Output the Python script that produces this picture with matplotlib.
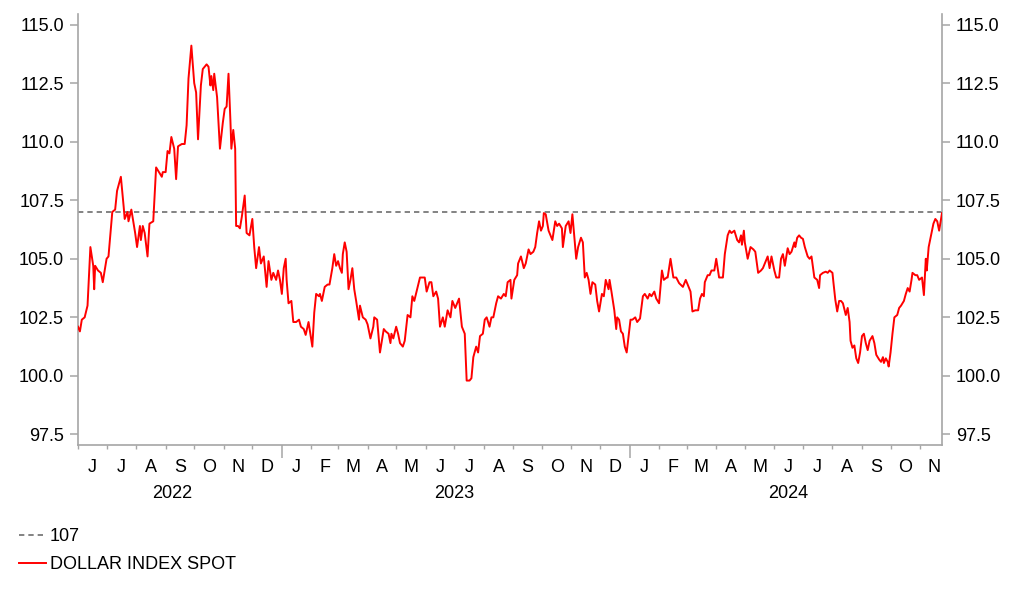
import matplotlib
matplotlib.use("Agg")
import matplotlib.pyplot as plt
import matplotlib.lines as mlines
import matplotlib.transforms as mtransforms
import pandas as pd

# ---------------- data ----------------
dates = [
    "2022-06-01", "2022-06-03", "2022-06-05", "2022-06-08", "2022-06-11", "2022-06-14", "2022-06-17", "2022-06-18",
    "2022-06-19", "2022-06-22", "2022-06-25", "2022-06-27", "2022-07-01", "2022-07-03", "2022-07-07", "2022-07-10",
    "2022-07-12", "2022-07-16", "2022-07-19", "2022-07-20", "2022-07-23", "2022-07-24", "2022-07-27", "2022-07-29",
    "2022-07-31", "2022-08-02", "2022-08-05", "2022-08-06", "2022-08-08", "2022-08-10", "2022-08-13", "2022-08-15",
    "2022-08-19", "2022-08-22", "2022-08-25", "2022-08-28", "2022-08-29", "2022-09-01", "2022-09-03", "2022-09-05",
    "2022-09-07", "2022-09-10", "2022-09-12", "2022-09-14", "2022-09-18", "2022-09-21", "2022-09-23", "2022-09-25",
    "2022-09-28", "2022-10-01", "2022-10-03", "2022-10-05", "2022-10-08", "2022-10-10", "2022-10-14", "2022-10-16",
    "2022-10-18", "2022-10-19", "2022-10-21", "2022-10-22", "2022-10-25", "2022-10-28", "2022-10-31", "2022-11-02",
    "2022-11-04", "2022-11-06", "2022-11-08", "2022-11-09", "2022-11-11", "2022-11-13", "2022-11-14", "2022-11-16",
    "2022-11-18", "2022-11-20", "2022-11-23", "2022-11-25", "2022-11-28", "2022-12-01", "2022-12-03", "2022-12-05",
    "2022-12-08", "2022-12-10", "2022-12-13", "2022-12-16", "2022-12-18", "2022-12-21", "2022-12-23", "2022-12-26",
    "2022-12-28", "2022-12-30", "2023-01-01", "2023-01-03", "2023-01-05", "2023-01-06", "2023-01-08", "2023-01-11",
    "2023-01-13", "2023-01-16", "2023-01-19", "2023-01-21", "2023-01-24", "2023-01-26", "2023-01-29", "2023-02-02",
    "2023-02-04", "2023-02-06", "2023-02-09", "2023-02-10", "2023-02-12", "2023-02-15", "2023-02-18", "2023-02-20",
    "2023-02-23", "2023-02-25", "2023-02-27", "2023-03-01", "2023-03-03", "2023-03-05", "2023-03-06", "2023-03-08",
    "2023-03-10", "2023-03-12", "2023-03-14", "2023-03-16", "2023-03-18", "2023-03-20", "2023-03-23", "2023-03-24",
    "2023-03-27", "2023-03-30", "2023-04-01", "2023-04-04", "2023-04-07", "2023-04-08", "2023-04-11", "2023-04-14",
    "2023-04-18", "2023-04-20", "2023-04-23", "2023-04-25", "2023-04-26", "2023-04-28", "2023-05-01", "2023-05-03",
    "2023-05-05", "2023-05-08", "2023-05-10", "2023-05-13", "2023-05-16", "2023-05-18", "2023-05-20", "2023-05-23",
    "2023-05-26", "2023-05-30", "2023-05-31", "2023-06-02", "2023-06-05", "2023-06-07", "2023-06-09", "2023-06-12",
    "2023-06-14", "2023-06-16", "2023-06-19", "2023-06-21", "2023-06-24", "2023-06-27", "2023-06-29", "2023-07-02",
    "2023-07-05", "2023-07-06", "2023-07-09", "2023-07-12", "2023-07-14", "2023-07-17", "2023-07-19", "2023-07-21",
    "2023-07-24", "2023-07-26", "2023-07-28", "2023-07-31", "2023-08-02", "2023-08-04", "2023-08-07", "2023-08-09",
    "2023-08-11", "2023-08-14", "2023-08-16", "2023-08-19", "2023-08-22", "2023-08-24", "2023-08-26", "2023-08-29",
    "2023-08-30", "2023-09-02", "2023-09-05", "2023-09-06", "2023-09-09", "2023-09-12", "2023-09-14", "2023-09-17",
    "2023-09-19", "2023-09-22", "2023-09-24", "2023-09-26", "2023-09-28", "2023-09-30", "2023-10-02", "2023-10-03",
    "2023-10-05", "2023-10-08", "2023-10-10", "2023-10-12", "2023-10-15", "2023-10-17", "2023-10-19", "2023-10-22",
    "2023-10-23", "2023-10-26", "2023-10-29", "2023-10-31", "2023-11-02", "2023-11-06", "2023-11-08", "2023-11-11",
    "2023-11-13", "2023-11-15", "2023-11-17", "2023-11-19", "2023-11-21", "2023-11-23", "2023-11-26", "2023-11-28",
    "2023-11-30", "2023-12-03", "2023-12-05", "2023-12-07", "2023-12-10", "2023-12-11", "2023-12-13", "2023-12-16",
    "2023-12-18", "2023-12-19", "2023-12-21", "2023-12-23", "2023-12-25", "2023-12-27", "2023-12-29", "2023-12-31",
    "2024-01-02", "2024-01-04", "2024-01-07", "2024-01-09", "2024-01-12", "2024-01-15", "2024-01-17", "2024-01-20",
    "2024-01-22", "2024-01-24", "2024-01-27", "2024-01-29", "2024-02-01", "2024-02-04", "2024-02-06", "2024-02-09",
    "2024-02-10", "2024-02-13", "2024-02-16", "2024-02-19", "2024-02-22", "2024-02-26", "2024-02-29", "2024-03-03",
    "2024-03-05", "2024-03-07", "2024-03-10", "2024-03-13", "2024-03-15", "2024-03-17", "2024-03-19", "2024-03-20",
    "2024-03-23", "2024-03-25", "2024-03-27", "2024-03-30", "2024-04-01", "2024-04-04", "2024-04-06", "2024-04-08",
    "2024-04-10", "2024-04-13", "2024-04-15", "2024-04-17", "2024-04-20", "2024-04-23", "2024-04-25", "2024-04-27",
    "2024-04-28", "2024-04-30", "2024-05-01", "2024-05-04", "2024-05-07", "2024-05-10", "2024-05-12", "2024-05-15",
    "2024-05-18", "2024-05-20", "2024-05-23", "2024-05-25", "2024-05-27", "2024-05-29", "2024-06-01", "2024-06-03",
    "2024-06-06", "2024-06-08", "2024-06-10", "2024-06-12", "2024-06-15", "2024-06-17", "2024-06-19", "2024-06-22",
    "2024-06-23", "2024-06-25", "2024-06-27", "2024-06-29", "2024-07-01", "2024-07-03", "2024-07-06", "2024-07-08",
    "2024-07-10", "2024-07-13", "2024-07-16", "2024-07-18", "2024-07-19", "2024-07-22", "2024-07-25", "2024-07-27",
    "2024-07-29", "2024-08-01", "2024-08-02", "2024-08-04", "2024-08-06", "2024-08-08", "2024-08-10", "2024-08-12",
    "2024-08-15", "2024-08-17", "2024-08-19", "2024-08-20", "2024-08-22", "2024-08-24", "2024-08-26", "2024-08-28",
    "2024-08-30", "2024-09-01", "2024-09-03", "2024-09-05", "2024-09-07", "2024-09-09", "2024-09-12", "2024-09-14",
    "2024-09-16", "2024-09-19", "2024-09-21", "2024-09-23", "2024-09-24", "2024-09-26", "2024-09-28", "2024-09-29",
    "2024-10-01", "2024-10-03", "2024-10-05", "2024-10-08", "2024-10-10", "2024-10-12", "2024-10-15", "2024-10-17",
    "2024-10-19", "2024-10-21", "2024-10-23", "2024-10-24", "2024-10-27", "2024-10-29", "2024-10-31", "2024-11-03",
    "2024-11-05", "2024-11-07", "2024-11-08", "2024-11-10", "2024-11-13", "2024-11-15", "2024-11-17", "2024-11-19",
    "2024-11-21", "2024-11-23", "2024-11-24",
]

dollar_index = [
    102.1, 101.9, 102.4, 102.5, 103.0, 105.5, 104.7, 103.7,
    104.7, 104.5, 104.4, 104.0, 105.0, 105.1, 107.0, 107.1,
    107.9, 108.5, 107.2, 106.7, 107.0, 106.6, 107.1, 106.6,
    106.1, 105.5, 106.4, 105.8, 106.4, 106.1, 105.1, 106.5,
    106.6, 108.9, 108.7, 108.5, 108.7, 108.7, 109.6, 109.5,
    110.2, 109.7, 108.4, 109.8, 109.9, 109.9, 110.7, 112.7,
    114.1, 112.5, 112.1, 110.1, 112.4, 113.1, 113.3, 113.2,
    112.4, 112.8, 112.2, 112.9, 111.9, 109.7, 110.8, 111.4,
    111.5, 112.9, 110.9, 109.7, 110.5, 109.7, 106.4, 106.4,
    106.3, 106.8, 107.7, 106.1, 106.0, 106.7, 105.5, 104.6,
    105.5, 104.8, 105.1, 103.8, 104.9, 104.1, 104.4, 104.1,
    104.5, 104.1, 103.5, 104.6, 105.0, 104.1, 103.1, 103.2,
    102.3, 102.3, 102.4, 102.1, 102.0, 101.75, 102.3, 101.25,
    102.7, 103.5, 103.4, 103.5, 103.2, 103.8, 103.9, 103.9,
    104.6, 105.2, 104.7, 104.9, 104.6, 104.4, 105.2, 105.7,
    105.3, 103.7, 104.1, 104.6, 103.7, 103.2, 102.4, 103.0,
    102.5, 102.4, 102.2, 101.6, 102.1, 102.5, 102.4, 101.0,
    102.0, 101.9, 101.8, 101.4, 101.8, 101.6, 102.1, 101.8,
    101.4, 101.25, 101.5, 102.6, 102.5, 103.4, 103.2, 103.7,
    104.2, 104.2, 104.2, 103.6, 104.0, 104.0, 103.4, 103.6,
    103.3, 102.1, 102.5, 102.1, 102.8, 102.5, 103.2, 102.9,
    103.2, 103.3, 102.1, 101.8, 99.8, 99.8, 99.9, 100.8,
    101.25, 101.0, 101.7, 101.8, 102.4, 102.5, 102.1, 102.5,
    102.5, 103.1, 103.4, 103.3, 103.5, 103.4, 104.0, 104.1,
    103.3, 104.1, 104.3, 104.8, 105.1, 104.6, 104.8, 105.4,
    105.2, 105.3, 105.5, 106.1, 106.6, 106.2, 106.4, 106.95,
    106.9, 106.2, 106.0, 105.8, 106.6, 106.4, 106.5, 106.3,
    105.5, 106.4, 106.6, 106.1, 106.9, 105.0, 105.5, 105.9,
    105.7, 104.2, 104.4, 104.1, 103.5, 104.0, 103.9, 103.2,
    102.75, 103.5, 103.4, 104.1, 103.7, 104.1, 103.6, 102.8,
    102.0, 102.5, 102.4, 101.9, 101.8, 101.25, 101.0, 101.7,
    102.4, 102.4, 102.5, 102.3, 102.45, 103.4, 103.5, 103.3,
    103.5, 103.4, 103.6, 103.3, 103.1, 104.5, 104.1, 104.2,
    104.2, 105.0, 104.2, 104.2, 103.96, 103.8, 104.1, 103.8,
    103.6, 102.75, 102.8, 102.8, 103.3, 103.5, 103.4, 104.0,
    104.3, 104.3, 104.5, 104.5, 105.0, 104.2, 104.2, 104.2,
    105.2, 106.0, 106.2, 106.1, 106.2, 105.8, 105.7, 106.0,
    105.6, 106.2, 105.7, 105.0, 105.5, 105.4, 105.3, 104.4,
    104.5, 104.6, 104.9, 105.1, 104.6, 105.1, 104.5, 104.2,
    104.2, 105.0, 105.2, 104.7, 105.45, 105.2, 105.3, 105.7,
    105.5, 105.9, 106.0, 105.9, 105.85, 105.5, 105.1, 105.0,
    105.1, 104.2, 104.1, 103.75, 104.3, 104.4, 104.45, 104.4,
    104.5, 104.4, 104.0, 103.25, 102.75, 103.2, 103.2, 103.1,
    102.6, 102.9, 102.3, 101.5, 101.2, 101.3, 100.75, 100.55,
    101.0, 101.7, 101.8, 101.4, 101.1, 101.5, 101.7, 101.4,
    100.9, 100.7, 100.6, 100.8, 100.55, 100.75, 100.6, 100.4,
    101.0, 101.8, 102.5, 102.6, 102.9, 103.0, 103.2, 103.5,
    103.75, 103.6, 104.1, 104.4, 104.3, 104.3, 104.1, 104.2,
    103.45, 105.0, 104.5, 105.5, 106.1, 106.5, 106.7, 106.6,
    106.2, 106.7, 106.95,
]

threshold_value = 107.0
series_label = "DOLLAR INDEX SPOT"
threshold_label = "107"
y_ticks = [97.5, 100.0, 102.5, 105.0, 107.5, 110.0, 112.5, 115.0]
x_start, x_end = "2022-06-01", "2024-11-24"
year_names = ["2022", "2023", "2024"]
year_label_dates = ["2022-09-08", "2023-07-01", "2024-06-16"]

# ---------------- figure ----------------
W, H = 1022, 597
fig = plt.figure(figsize=(W / 100, H / 100), dpi=100)
plt.rcParams["font.family"] = ["Liberation Sans", "DejaVu Sans"]
FS = 13

left, right, top, bottom = 78, 942, 14, 445
ax = fig.add_axes([left / W, 1 - bottom / H, (right - left) / W, (bottom - top) / H])

d = pd.to_datetime(dates)
ax.plot(d, dollar_index, color="#ff0000", lw=1.4, solid_joinstyle="round", zorder=3)
ax.axhline(threshold_value, color="#6e6e6e", lw=1.2, ls=(0, (3.2, 2.4)), zorder=2)

ax.set_xlim(pd.Timestamp(x_start), pd.Timestamp(x_end))
ax.set_ylim(97.05, 115.45)

axis_col = "#a6a6a6"
text_col = "#000000"
for s in ["left", "right", "bottom"]:
    ax.spines[s].set_color(axis_col)
    ax.spines[s].set_linewidth(1.2)
ax.spines["top"].set_visible(False)

ax.set_yticks(y_ticks)
ax.set_yticklabels([f"{v:.1f}" for v in y_ticks])
ax.tick_params(axis="y", which="major", left=True, right=True, labelleft=True, labelright=True,
               direction="out", length=6, width=1.1, color=axis_col, labelsize=FS,
               labelcolor=text_col, pad=4)

# month ticks (minor) and year ticks (major)
month_starts = pd.date_range(pd.Timestamp(x_start), pd.Timestamp(x_end), freq="MS")
year_starts = [m for m in month_starts if m.month == 1]
ax.set_xticks(year_starts)
ax.set_xticklabels([])
ax.set_xticks([m for m in month_starts if m.month != 1], minor=True)
ax.tick_params(axis="x", which="major", direction="out", length=9, width=1.1, color=axis_col)
ax.tick_params(axis="x", which="minor", direction="out", length=3, width=1.0, color=axis_col)

trans = mtransforms.blended_transform_factory(ax.transData, fig.transFigure)
month_ends = list(month_starts[1:]) + [pd.Timestamp(x_end) + pd.Timedelta(days=6)]
for ms, me in zip(month_starts, month_ends):
    mid = ms + (me - ms) / 2
    ax.text(mid, 1 - 467 / H, ms.strftime("%b")[0], transform=trans, ha="center", va="center",
            fontsize=FS, color=text_col)
for name, dd in zip(year_names, year_label_dates):
    ax.text(pd.Timestamp(dd), 1 - 494 / H, name, transform=trans, ha="center", va="center",
            fontsize=FS, color=text_col)

# legend
h1 = mlines.Line2D([], [], color="#6e6e6e", lw=1.2, ls=(0, (3.2, 2.4)))
h2 = mlines.Line2D([], [], color="#ff0000", lw=1.4)
fig.legend([h1, h2], [threshold_label, series_label], loc="upper left",
           bbox_to_anchor=(3 / W, 1 - 512 / H), frameon=False, fontsize=FS,
           handlelength=1.5, handletextpad=0.2, labelspacing=0.6, labelcolor=text_col)

fig.savefig("out.png", dpi=100)
